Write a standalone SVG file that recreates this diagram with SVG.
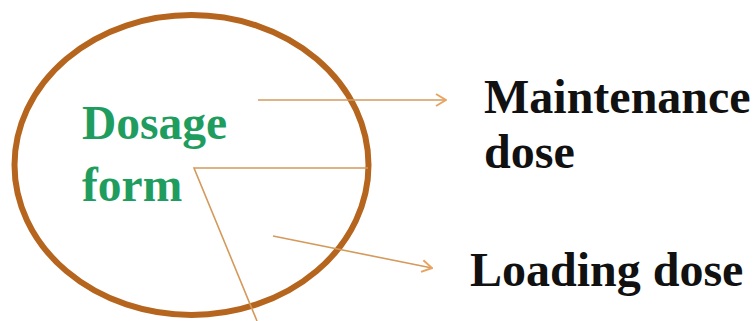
<svg xmlns="http://www.w3.org/2000/svg" width="756" height="321" viewBox="0 0 756 321">
<defs>
<style>
.conn{fill:none;stroke:#d49a5c;stroke-width:1.6}
.lbl{font-family:"Liberation Serif","Times New Roman",serif;font-weight:bold;font-size:48px;fill:#111}
.green{font-family:"Liberation Serif","Times New Roman",serif;font-weight:bold;font-size:47.5px;fill:#1f9d5f}
</style>
<marker id="arr" viewBox="0 0 12 14" refX="11" refY="7" markerWidth="12" markerHeight="14" markerUnits="userSpaceOnUse" orient="auto">
<path d="M1,1 L11,7 L1,13" fill="none" stroke="#e8a460" stroke-width="2"/>
</marker>
</defs>
<rect width="756" height="321" fill="#fff"/>
<g id="dosage-form">
<ellipse cx="191.5" cy="165" rx="177" ry="150" fill="none" stroke="#b5651d" stroke-width="6"/>
<text class="green" x="82" y="139">Dosage</text>
<text class="green" x="82" y="201">form</text>
</g>
<g id="connectors">
<line class="conn" x1="258" y1="100" x2="446" y2="100" marker-end="url(#arr)"/>
<polyline class="conn" points="368,168 194,168 257,321"/>
<line class="conn" x1="273" y1="236" x2="432" y2="268" marker-end="url(#arr)"/>
</g>
<g id="maintenance-dose">
<text class="lbl" x="484" y="113">Maintenance</text>
<text class="lbl" x="484" y="168">dose</text>
</g>
<g id="loading-dose">
<text class="lbl" x="470" y="286">Loading dose</text>
</g>
</svg>
